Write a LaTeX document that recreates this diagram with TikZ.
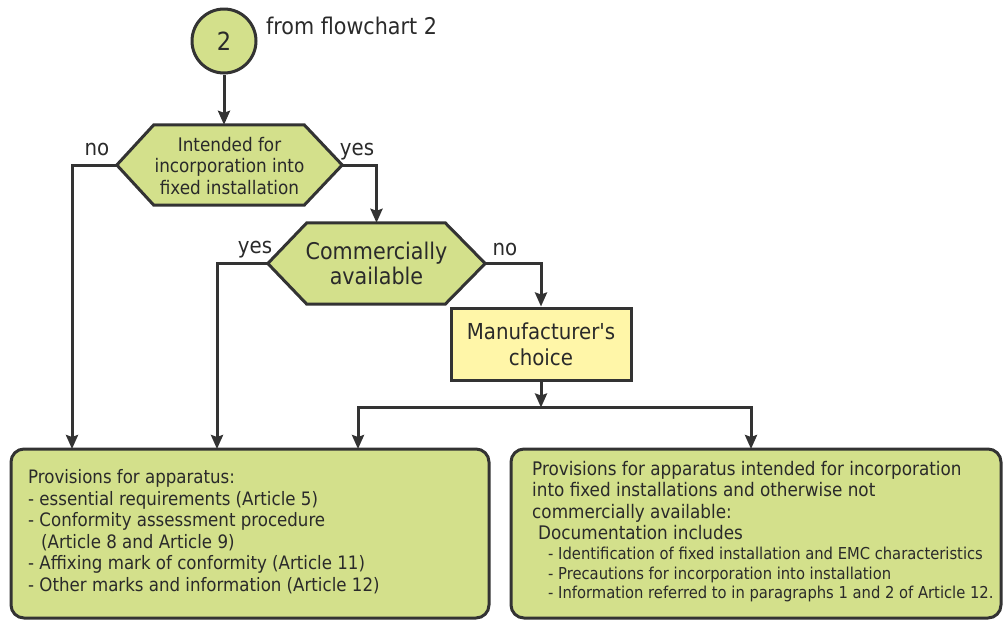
\documentclass[tikz,border=0pt]{standalone}
\usepackage{fontspec}
\setmainfont{DejaVu Sans Condensed}
\usetikzlibrary{arrows.meta,calc}
\definecolor{grn}{HTML}{D3E08B}
\definecolor{ylw}{HTML}{FFF6A8}
\definecolor{ln}{HTML}{333333}
\definecolor{tx}{HTML}{2A2A2A}
\pgfdeclarelayer{bg}
\pgfsetlayers{bg,main}
\tikzset{
  every node/.style={text=tx},
  conn/.style={draw=ln,line width=3pt},
  arr/.style={conn,-{Stealth[length=14pt,width=12pt,inset=2pt]}},
  hexfill/.style={fill=grn,draw=ln,line width=3pt,line join=miter},
  hextext/.style={align=center,inner sep=0pt},
  lbl/.style={font=\fontsize{22}{24}\selectfont,inner sep=0pt,anchor=base},
  bigbox/.style={draw=ln,fill=grn,line width=3pt,rounded corners=13pt,inner sep=0pt},
}
\begin{document}
\begin{tikzpicture}[x=1pt,y=-1pt]
\useasboundingbox (0,0) rectangle (1003,619);
% start circle
\node[circle,draw=ln,fill=grn,line width=3pt,minimum size=64pt,inner sep=0pt,font=\fontsize{25}{28}\selectfont] (c) at (224,41) {2};
\node[anchor=west,inner sep=0pt,font=\fontsize{23}{26}\selectfont] (from) at (266,26) {from flowchart 2};
% hexagon 1
\node[hextext,minimum width=225pt,minimum height=80pt,font=\fontsize{18.7}{21.5}\selectfont] (h1) at (229.5,165) {};
\node[hextext,font=\fontsize{18.7}{21.5}\selectfont] (h1t) at (229.5,166) {Intended for\\incorporation into\\fixed installation};
\begin{pgfonlayer}{bg}
\path[hexfill] (h1.west) -- ([xshift=37pt]h1.north west) -- ([xshift=-38pt]h1.north east) -- (h1.east) -- ([xshift=-38pt]h1.south east) -- ([xshift=37pt]h1.south west) -- cycle;
\end{pgfonlayer}
% hexagon 2
\node[hextext,minimum width=217pt,minimum height=81pt,font=\fontsize{23}{25.5}\selectfont] (h2) at (376.5,263.5) {Commercially\\available};
\begin{pgfonlayer}{bg}
\path[hexfill] (h2.west) -- ([xshift=39pt]h2.north west) -- ([xshift=-40pt]h2.north east) -- (h2.east) -- ([xshift=-40pt]h2.south east) -- ([xshift=39pt]h2.south west) -- cycle;
\end{pgfonlayer}
% manufacturer's choice
\node[draw=ln,fill=ylw,line width=3pt,minimum width=180pt,minimum height=72pt,align=center,inner sep=0pt,font=\fontsize{22}{26}\selectfont] (mc) at (541,344) {Manufacturer\textquotesingle s\\choice};
% bottom boxes
\node[bigbox,minimum width=478pt,minimum height=169pt] (lb) at (250,533.5) {};
\node[bigbox,minimum width=490pt,minimum height=169pt] (rb) at (756,533.5) {};
\node[anchor=north west,align=left,inner sep=0pt,font=\fontsize{18.5}{21.5}\selectfont] (lbt) at (28,469.5) {Provisions for apparatus:\\- essential requirements (Article 5)\\- Conformity assessment procedure\\\hspace*{13pt}(Article 8 and Article 9)\\- Affixing mark of conformity (Article 11)\\- Other marks and information (Article 12)};
\node[anchor=north west,align=left,inner sep=0pt,font=\fontsize{18.7}{21.5}\selectfont] (rbt) at (532,461) {Provisions for apparatus intended for incorporation\\into fixed installations and otherwise not\\commercially available:\\\hspace*{6pt}Documentation includes};
\node[anchor=north west,align=left,inner sep=0pt,font=\fontsize{16.4}{19.5}\selectfont] (rbl) at (548,547) {- Identification of fixed installation and EMC characteristics\\- Precautions for incorporation into installation\\- Information referred to in paragraphs 1 and 2 of Article 12.};
% connector coordinates
\coordinate (la) at (72,449);
\coordinate (lb2) at (217,449);
\coordinate (lc) at (358,449);
\coordinate (ra) at (751,449);
\coordinate (split) at (541,407.5);
% connectors
\draw[arr] (c.south) -- (c.south |- h1.north);
\draw[arr] (h1.west) -| (la);
\draw[arr] (h1.east) -| (h2.north);
\draw[arr] (h2.west) -| (lb2);
\draw[arr] (h2.east) -| (mc.north);
\draw[arr] (mc.south) -- (split);
\draw[arr] (split) -| (lc);
\draw[arr] (split) -| (ra);
% labels
\node[lbl] (no1) at (97,155) {no};
\node[lbl] (yes1) at (357,155) {yes};
\node[lbl] (yes2) at (255,253) {yes};
\node[lbl] (no2) at (505,255) {no};
\end{tikzpicture}
\end{document}
